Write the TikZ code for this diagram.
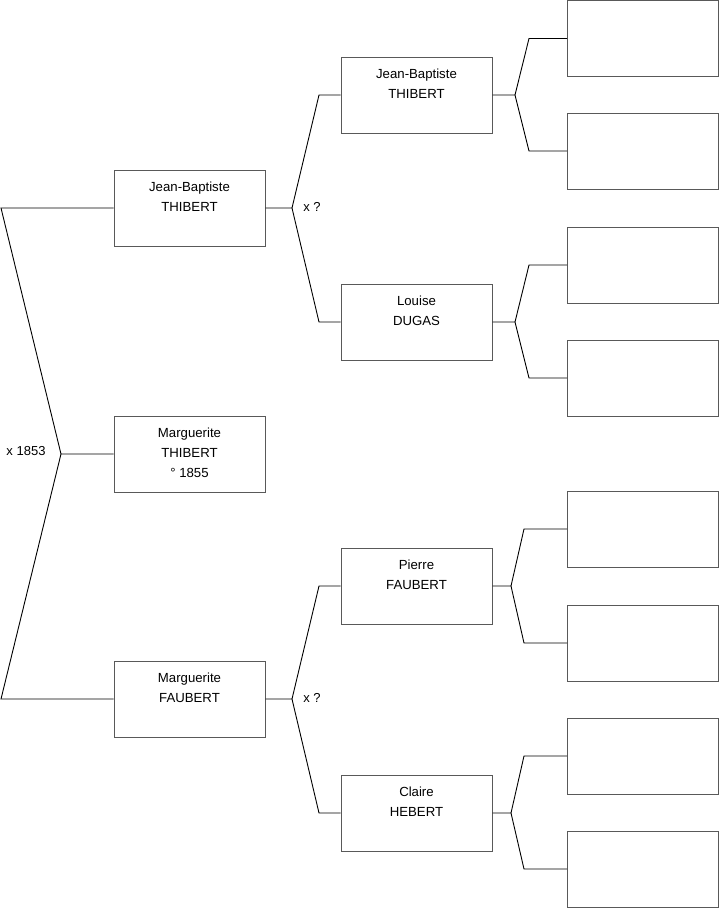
\documentclass[tikz,border=0pt]{standalone}
\usepackage{fontspec}
\setmainfont{Liberation Sans}
\begin{document}
\begin{tikzpicture}[x=1pt,y=-1pt,
  person/.style={draw=black!65, line width=1pt, minimum width=151pt, minimum height=76pt, inner sep=0pt},
  emptybox/.style={draw=black!65, line width=1pt, minimum width=151pt, minimum height=76pt, inner sep=0pt},
  ptext/.style={anchor=north, inner sep=0pt, align=center, font=\fontsize{13.2}{20}\selectfont, yshift=-12pt},
  lbl/.style={inner sep=0pt, font=\fontsize{13}{14}\selectfont},
  link/.style={draw=black, line width=0.9pt}]
\useasboundingbox (0,0) rectangle (719,908);
% generation 1
\node[person] (jb1) at (189.5,208) {};
\node[ptext] (jb1t) at (jb1.north) {Jean-Baptiste\\THIBERT};
\node[person] (mt) at (189.5,454) {};
\node[ptext] (mtt) at (mt.north) {Marguerite\\THIBERT\\° 1855};
\node[person] (mf) at (189.5,699) {};
\node[ptext] (mft) at (mf.north) {Marguerite\\FAUBERT};
% generation 2
\node[person] (jb2) at (416.5,95) {};
\node[ptext] (jb2t) at (jb2.north) {Jean-Baptiste\\THIBERT};
\node[person] (ld) at (416.5,322) {};
\node[ptext] (ldt) at (ld.north) {Louise\\DUGAS};
\node[person] (pf) at (416.5,586) {};
\node[ptext] (pft) at (pf.north) {Pierre\\FAUBERT};
\node[person] (ch) at (416.5,813) {};
\node[ptext] (cht) at (ch.north) {Claire\\HEBERT};
% generation 3
\node[emptybox] (e1) at (643,38.5) {};
\node[emptybox] (e2) at (643,151) {};
\node[emptybox] (e3) at (643,265) {};
\node[emptybox] (e4) at (643,378) {};
\node[emptybox] (e5) at (643,529) {};
\node[emptybox] (e6) at (643,643) {};
\node[emptybox] (e7) at (643,756) {};
\node[emptybox] (e8) at (643,869) {};
% labels
\node[lbl] (m0) at (26,451) {x 1853};
\node[lbl] (m1) at (312,207) {x ?};
\node[lbl] (m2) at (312,698) {x ?};
% fork coordinates
\coordinate (v0) at (61,454);
\coordinate (a0) at (1,208);
\coordinate (b0) at (1,699);
\coordinate (v1) at (292,208);
\coordinate (a1) at (319,95);
\coordinate (b1) at (319,322);
\coordinate (v2) at (292,699);
\coordinate (a2) at (319,586);
\coordinate (b2) at (319,813);
\coordinate (v3) at (515,95);
\coordinate (a3) at (529,38.5);
\coordinate (b3) at (529,151);
\coordinate (v4) at (515,322);
\coordinate (a4) at (529,265);
\coordinate (b4) at (529,378);
\coordinate (v5) at (511,586);
\coordinate (a5) at (524,529);
\coordinate (b5) at (524,643);
\coordinate (v6) at (511,813);
\coordinate (a6) at (524,756);
\coordinate (b6) at (524,869);
% connectors
\draw[link] (mt.west) -- (v0) -- (a0) -- (jb1.west);
\draw[link] (v0) -- (b0) -- (mf.west);
\draw[link] (jb1.east) -- (v1) -- (a1) -- (jb2.west);
\draw[link] (v1) -- (b1) -- (ld.west);
\draw[link] (mf.east) -- (v2) -- (a2) -- (pf.west);
\draw[link] (v2) -- (b2) -- (ch.west);
\draw[link] (jb2.east) -- (v3) -- (a3) -- (e1.west);
\draw[link] (v3) -- (b3) -- (e2.west);
\draw[link] (ld.east) -- (v4) -- (a4) -- (e3.west);
\draw[link] (v4) -- (b4) -- (e4.west);
\draw[link] (pf.east) -- (v5) -- (a5) -- (e5.west);
\draw[link] (v5) -- (b5) -- (e6.west);
\draw[link] (ch.east) -- (v6) -- (a6) -- (e7.west);
\draw[link] (v6) -- (b6) -- (e8.west);
\end{tikzpicture}
\end{document}
